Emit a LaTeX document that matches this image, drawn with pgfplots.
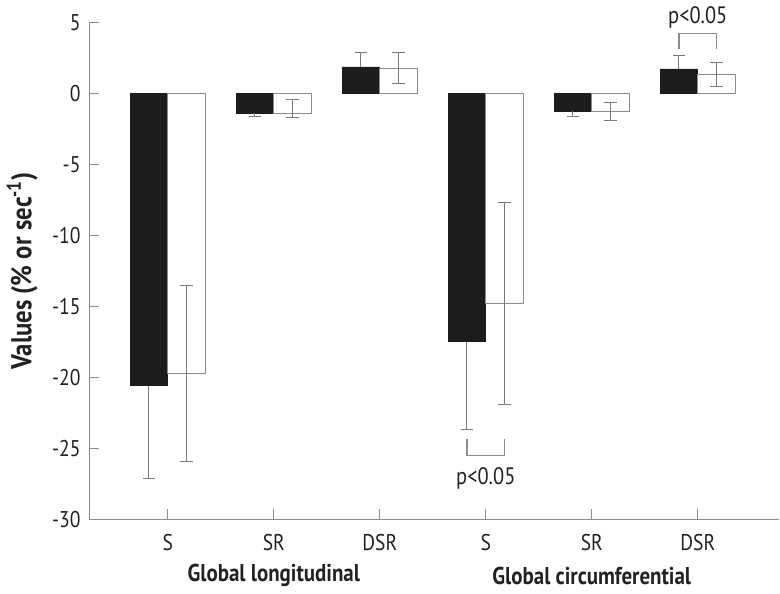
\documentclass[border=0pt]{standalone}
\usepackage{fontspec}
\setmainfont[FakeStretch=0.86]{PT Sans}
\usepackage{pgfplots}
\pgfplotsset{compat=1.18}
\definecolor{axgray}{HTML}{8C8C8C}
\definecolor{barblack}{HTML}{1C1C1C}
\definecolor{errgray}{HTML}{7A7A7A}
\definecolor{txt}{HTML}{222222}
\begin{document}
\begin{tikzpicture}
\begin{axis}[
  scale only axis,
  width=348.5pt, height=251pt,
  xmin=-0.74, xmax=5.77,
  ymin=-30, ymax=5,
  axis lines=left,
  axis line style={-, axgray, line width=0.6pt},
  tick style={axgray, line width=0.6pt},
  tick align=inside,
  major tick length=5pt,
  xtick={0,1,2,3,4,5},
  xticklabels={S,SR,DSR,S,SR,DSR},
  ytick={-30,-25,-20,-15,-10,-5,0,5},
  /pgf/number format/assume math mode=true,
  ticklabel style={font=\fontsize{11.5}{13}\selectfont, text=txt},
  xticklabel style={yshift=-4pt},
  yticklabel style={xshift=-1pt},
  clip=false,
  error bars/y dir=both,
  error bars/y explicit,
  error bars/error bar style={errgray, line width=0.5pt},
  error bars/error mark options={errgray, line width=0.5pt, mark size=3.2pt, rotate=90},
]
% black bars, negative values (lower whisker visible)
\addplot[ybar, bar width=0.355, bar shift=0pt, fill=barblack, draw=barblack,
  error bars/y dir=minus]
  coordinates {
  (-0.178,-20.6) +- (0,6.5)
  (0.822,-1.40) +- (0,0.23)
  (2.822,-17.5) +- (0,6.2)
  (3.822,-1.26) +- (0,0.37)
  };
% black bars, positive values (upper whisker visible)
\addplot[ybar, bar width=0.355, bar shift=0pt, fill=barblack, draw=barblack,
  error bars/y dir=plus]
  coordinates {
  (1.822,1.86) +- (0,1.02)
  (4.822,1.72) +- (0,0.98)
  };
% white bars
\addplot[ybar, bar width=0.355, bar shift=0pt, fill=white, draw=axgray, line width=0.6pt]
  coordinates {
  (0.178,-19.7) +- (0,6.2)
  (1.178,-1.40) += (0,0.96) -= (0,0.30)
  (2.178,1.78) +- (0,1.08)
  (3.178,-14.8) +- (0,7.1)
  (4.178,-1.28) +- (0,0.63)
  (5.178,1.35) +- (0,0.85)
  };
% significance brackets
\draw[axgray, line width=0.6pt] (axis cs:2.822,-24.35) -- (axis cs:2.822,-25.5) -- (axis cs:3.178,-25.5) -- (axis cs:3.178,-24.35);
\node[text=txt, font=\fontsize{12}{14}\selectfont] at (axis cs:3,-27.15) {p<0.05};
\draw[axgray, line width=0.6pt] (axis cs:4.822,3.16) -- (axis cs:4.822,4.19) -- (axis cs:5.178,4.19) -- (axis cs:5.178,3.16);
\node[text=txt, font=\fontsize{12}{14}\selectfont] at (axis cs:5,5.35) {p<0.05};
% y label
\node[text=txt, rotate=90, font=\bfseries\fontsize{14.5}{16}\selectfont] at ([xshift=-34pt]rel axis cs:0,0.5) {Values (\% or sec\textsuperscript{-1})};
% group labels
\node[text=txt, font=\bfseries\fontsize{12.3}{14}\selectfont] at ([yshift=-28.5pt]axis cs:1,-30) {Global longitudinal};
\node[text=txt, font=\bfseries\fontsize{12.3}{14}\selectfont] at ([yshift=-28.5pt]axis cs:4,-30) {Global circumferential};
% picture frame
\path ([xshift=-42.5pt,yshift=-37pt]rel axis cs:0,0) coordinate (bbsw);
\path ([yshift=9.5pt]rel axis cs:1,1) coordinate (bbne);
\end{axis}
\useasboundingbox (bbsw) rectangle (bbne);
\end{tikzpicture}
\end{document}
